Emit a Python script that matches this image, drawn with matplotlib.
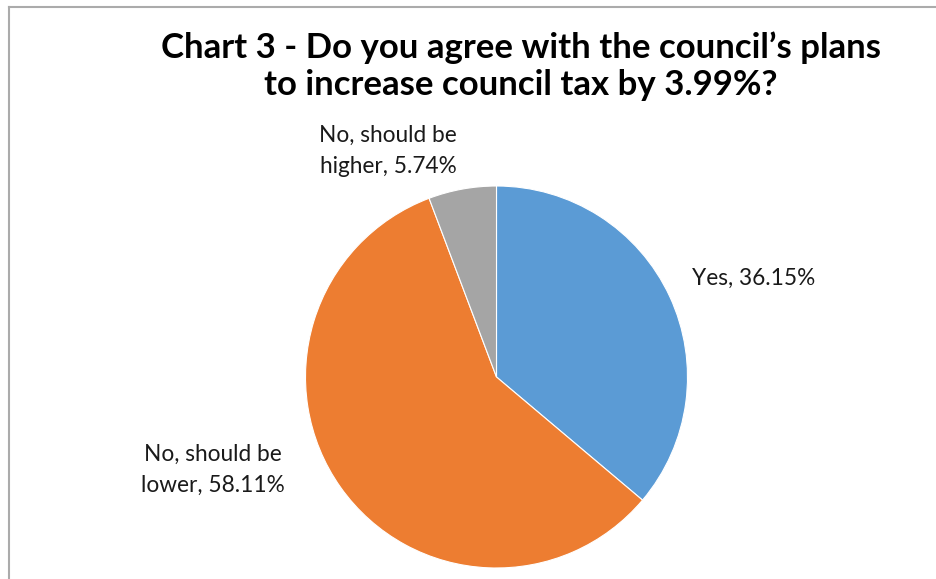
import matplotlib
matplotlib.use("Agg")
import matplotlib.pyplot as plt
from matplotlib.lines import Line2D

plt.rcParams['font.family'] = ['Lato', 'DejaVu Sans']

# survey answers
answers = ['Yes', 'No, should be\nlower', 'No, should be\nhigher']
shares = [36.15, 58.11, 5.74]
colours = ['#5B9BD5', '#ED7D31', '#A5A5A5']

W, H = 937, 579
fig = plt.figure(figsize=(W / 100, H / 100), dpi=100)
ax = fig.add_axes([0, 0, 1, 1])

cx, cy, r = 496.5, H - 377, 191
ax.pie(shares, colors=colours, startangle=90, counterclock=False,
       center=(cx, cy), radius=r, frame=True,
       wedgeprops=dict(edgecolor='white', linewidth=0.8))
ax.set_xlim(0, W)
ax.set_ylim(0, H)
ax.set_aspect('equal')
ax.axis('off')

# data labels
label_pos = [(692, H - 278, 'left'), (213, H - 470, 'center'), (388, H - 151, 'center')]
for name, val, (x, y, ha) in zip(answers, shares, label_pos):
    ax.text(x, y, f'{name}, {val:.2f}%', ha=ha, va='center',
            fontsize=16.3, linespacing=1.55, color='#1a1a1a')

fig.text(521 / W, 1 - 66 / H,
         'Chart 3 - Do you agree with the council\u2019s plans\nto increase council tax by 3.99%?',
         ha='center', va='center', fontsize=25, fontweight='bold',
         linespacing=1.2, color='black')

# chart area frame
fig.add_artist(Line2D([9 / W, 9 / W], [0, 1 - 7 / H], transform=fig.transFigure,
                      color='#ababab', lw=1.5))
fig.add_artist(Line2D([9 / W, 1], [1 - 7 / H, 1 - 7 / H], transform=fig.transFigure,
                      color='#ababab', lw=1.5))

fig.savefig('out.png', dpi=100)
